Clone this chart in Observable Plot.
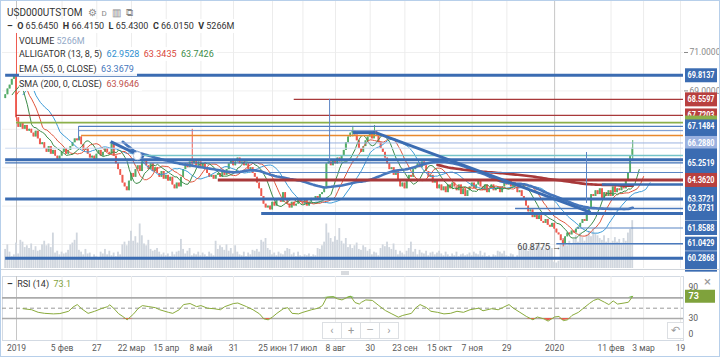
<!DOCTYPE html>
<html><head><meta charset="utf-8">
<script src="https://cdn.jsdelivr.net/npm/d3@7"></script>
<script src="https://cdn.jsdelivr.net/npm/@observablehq/plot@0.6"></script>
<style>
html,body{margin:0;padding:0;background:#fff;}
#wrap{position:relative;width:720px;height:357px;overflow:hidden;background:#fff;font-family:Roboto,"Noto Sans",sans-serif;}
.lg{position:absolute;font-size:9px;line-height:14px;color:#333;white-space:nowrap;background:rgba(255,255,255,0.92);padding-right:3px;}
.b{font-weight:700;}
#border{position:absolute;left:0;top:0;width:720px;height:357px;box-sizing:border-box;border:1px solid #b7cfea;pointer-events:none;}
.btn{position:absolute;background:#fff;border:1px solid #dcdfe3;color:#9a9a9a;font-size:11px;text-align:center;line-height:15px;box-sizing:border-box;}
</style></head><body>
<div id="wrap"></div>
<script>
// ---------------- DATA ----------------
const closes = [
68.8,69.1,69.3,69.6,69.8,
67.6,
67.1,67.3,67.0,67.2,66.9,67.0,
66.8,66.6,66.9,
66.5,66.2,66.3,66.0,
65.8,66.1,65.7,65.9,65.6,
65.4,65.6,
65.8,66.0,65.7,65.9,66.1,
66.3,66.5,66.4,66.6,
66.2,65.9,66.0,65.7,65.5,65.6,65.4,
65.7,65.9,65.6,65.8,66.0,65.8,65.7,
66.3,
65.6,65.2,64.9,
64.6,64.2,64.0,63.8,
64.3,64.7,64.5,64.9,65.1,64.8,
65.3,65.4,
65.1,64.9,65.2,64.8,65.0,
64.7,64.5,64.8,64.4,64.6,64.3,64.5,
64.1,63.9,64.2,64.0,
64.5,64.9,65.2,65.0,65.3,
65.2,65.4,65.1,65.3,65.0,65.2,64.9,
64.7,64.5,64.6,64.4,64.6,
64.7,64.5,64.8,64.6,
64.9,65.2,65.4,65.1,65.3,65.5,65.2,
65.3,65.1,65.2,64.9,65.0,
64.7,64.5,64.2,63.9,63.5,
63.1,62.9,63.0,62.8,
63.2,63.0,63.3,63.4,63.2,63.7,
63.3,63.1,62.9,63.2,63.0,63.1,63.3,
63.2,63.1,63.3,63.0,63.2,63.4,63.3,63.5,63.4,
63.6,63.7,63.9,65.2,
65.3,65.1,65.4,65.2,65.5,65.3,65.6,
65.9,66.3,66.6,66.8,
66.9,66.7,
66.4,66.0,65.8,66.1,66.4,
66.6,66.8,66.5,66.9,66.7,
66.3,66.0,65.8,65.5,
65.2,64.9,65.0,64.6,64.8,
64.3,64.0,64.2,63.9,
64.3,64.6,64.5,64.9,65.0,
65.2,65.0,65.3,65.1,
64.8,64.5,64.6,64.2,64.3,63.9,64.1,
63.8,64.0,63.7,64.1,63.9,64.2,64.0,
63.8,64.1,63.6,63.9,63.5,63.8,64.0,
64.2,63.9,64.1,64.3,
64.0,63.8,64.1,63.7,63.9,
64.1,63.8,63.9,64.0,63.7,64.0,64.2,
64.1,64.3,64.0,64.2,
64.0,63.7,63.8,63.5,63.4,
63.0,62.7,62.8,62.4,
62.6,62.3,62.5,62.2,62.1,
62.3,62.0,61.9,62.1,61.8,
61.6,61.5,61.2,61.0,
61.4,61.6,61.5,61.7,61.6,61.8,
61.9,62.1,62.3,62.2,62.6,
62.9,63.6,63.5,63.8,
63.6,63.9,63.4,63.7,63.5,
63.8,63.5,64.0,63.7,
63.9,63.8,64.1,63.9,
64.3,64.7,
65.6,
66.015
];
const firstOpen = 68.6;
const lastOpen = 65.645;
const wickIdx  = [5, 86, 160, 170, 257, 289];
const wickHigh = [72.0, 67.0, 67.15, 67.2, 61.3, 66.415];
const wickLow  = [67.4, 65.1, 66.6, 66.6, 60.8775, 65.43];

const volumes = [
2100,2600,1800, 1300,1500,2800,1600, 3100,2900,2300, 2500,2200,2700,2000,2400, 1900,2000,
2600,3000,2500,2700, 2300,3900, 1700,1900,1500,1800,1600, 1700,2000, 2600,2800,3100,3900,
2000,1800,1500,2100,1600,1700, 1200,1500,1300,1100, 1800,1600,2100,1500,1900,
1400,1700,1300,1800,1500, 2600,2900,2500,3000, 4100,3000, 3500,2800, 4900,
3600,2700,2500,3100, 2100,1900,2000,2200,1800, 1500,1700,1400,1600,1300,1800,1500,
1800,1900, 3200, 2100,1600,1900,2200,1400, 1600,1500,1800,1400,1700, 1500,1300,1800,1600,1400,
3000,2100, 2500,2300,2000,2600,1900, 2200,1600,2500,1800,1500, 1400,1800,1300,1700,1500,
2000,1900,2100,1800, 3100,2900,3300, 2200,2000, 1500,1700,1400,1800,1600,1500,1900,
2200,2100, 1500,1700,1300,1800,1400, 1300,1500,1400,1600,1300,1500,1400, 2200,2100,
2500,2900, 4900, 3900,3300,2900,3500, 3100,4400, 3000,2700,3300,2300,2600,
2200,2500,2800,2100, 2000,2500,2300,1900,2100, 1500,1800,1700,1400, 2200,2600,2400,2900,2300,
2100,2700,2000, 1500,1900,1700,1500, 1900,2200,2900, 1800,2100,1500,2000,1700,
1600,1900,1400,1700,1800,1500, 1700,1900,1600,1400,1800,1500, 1300,1600,1400,1800,1300,1500,
1600,1400,1500,1700,1400,1800, 1600,1500,1900,1400,1700, 1300,1400,1200,1500,1400,
1900,1800,1600,1900, 1400,1300,1600,1500,1200,1400, 2000,2300,2100,2500,1900,
2400,2700,2200,2600,2800,2300, 2100,2500,2000,2400,2200, 700,600, 800,2600,3300,
2800,2500,3000,2700, 3200,3600,2900,3900,3400, 3000,3700,4100,3500, 4300,3800,3600,3300,
3100,3600,2900,3300,2800, 3000,3400,2900,3200, 2800,3300,3000, 3900,4300, 5266
];

const tickIdx = [5,26,42,58,74,90,105,123,137,152,168,184,200,215,231,253,279,294,311];
const tickLabels = ["2019","5 фев","27","22 мар","15 апр","8 май","31","25 июн","17 июл","8 авг","30","23 сен","15 окт","7 ноя","29","2020","11 фев","3 мар","19"];
const yearTicks = [5, 253];
const gridPrices = [61,63,65,67,69,71];
const axisPrices = [69,71];

const BLUE = "#3b6cb2", DRED = "#a8393a", LBLUE = "#9bb2e0";
const levelPrice = [69.8137, 68.5597, 67.7203, 67.35, 67.1484, 66.93, 66.68, 66.288, 66.015, 65.635, 65.42, 65.2519, 64.75, 64.362, 64.125, 63.3721, 62.8731, 62.61, 61.8588, 61.0429, 60.2868];
const levelStart = [0, 133, 5, 5, 34, 34, 35, 48, 0, 64, 0, 0, 122, 98, 275, 0, 235, 118, 263, 254, 0];
const levelColor = [BLUE, DRED, DRED, "#8cb04a", "#4f7dc0", "#6f93cf", "#e8892e", LBLUE, "#c9d7ef", "#74c4c8", BLUE, "#3f70b6", "#5a85c4", DRED, BLUE, BLUE, "#4b7abd", BLUE, "#5a85c4", "#4b7abd", BLUE];
const levelWidth = [3, 1.2, 1.2, 1.6, 1.2, 1, 1.6, 1, 1, 1.6, 3, 1.4, 1, 3, 2.5, 3, 1.6, 3, 1.2, 1.6, 3];

// price label boxes in drawing order; "" = box covered by its neighbours
const labelPrice = [69.8137, 68.5597, 67.7203, 67.35, 66.93, 67.1484, 66.288, 65.635, 64.75, 63.9646, 65.2519, 64.362, 63.3721, 62.61, 62.8731, 61.8588, 61.0429, 59.95, 60.2868];
const labelText  = ["69.8137","68.5597","67.7203","","","67.1484","66.2880","","","","65.2519","64.3620","63.3721","","62.8731","61.8588","61.0429","","60.2868"];
const labelColor = [BLUE, "#b8403f", "#b8403f", "#8cb04a", BLUE, BLUE, LBLUE, BLUE, BLUE, BLUE, BLUE, "#b8403f", BLUE, BLUE, BLUE, BLUE, BLUE, BLUE, BLUE];

const trendX1 = [48.4, 160, 170.5];
const trendY1 = [66.36, 66.83, 66.83];
const trendX2 = [63.6, 170.5, 269.6];
const trendY2 = [65.53, 66.83, 62.67];
const handleX = [60.7], handleY = [65.62];

const vlineX  = [33.6, 149.3, 267.7];
const vlineY1 = [67.15, 68.56, 65.79];
const vlineY2 = [66.42, 65.27, 63.14];

const annIdx = [257], annPrice = [60.8775], annText = ["60.8775 →"];

const rsiIdx = [8,12,15,18,22,25,29,31,33,35,38,41,44,47,48,50,52,54,56,59,61,63,66,69,71,75,77,80,82,85,88,90,93,96,99,101,105,107,111,114,117,119,121,123,125,128,130,132,135,137,141,144,146,148,151,153,155,157,159,161,163,164,166,169,172,175,178,181,183,187,189,191,194,196,199,202,205,208,211,214,218,220,224,227,229,232,234,237,240,243,245,248,250,253,255,257,259,261,264,266,269,271,273,276,278,280,282,285,287,289];
const rsiVal = [49,47,42,40,39,39.6,44,52,57,49,40,44,49,53,56.5,49,39.6,33.9,27.5,39,49,55,53,51,47,42,40,47,57,59,53,55,50,49,47,53,59,60,53,47,39,29.4,27.5,33,40,49,51,40,39,42,47,50,55,71,72,68,66,70,73,61,58,61.5,66,65,55,45.5,39,32.6,36,40,50.6,57,51,44,42,39,40,44,42,47,50,45,49,47,51,57,50,42,34,27.5,33,29.4,25,33,34,26,27.5,36,42,49,59,65,68,61.5,57,64,58,60,61.5,73.1];
const rsiLevels = [70, 30], rsiMid = [50], rsiTicks = [0, 30, 90];
const rsiLast = [73.1], rsiLastText = ["73"];

// ---------------- BUILD ----------------
const X_DOMAIN = [-1.45, 312.4];
const Y_DOMAIN = [59.75, 73.708];
const RSI_DOMAIN = [-12.5, 111.3];
const W = 720;
const GREEN = "#55ac68", RED = "#ee5a4f";

const bars = closes.map((c, i) => {
  const o = i === 0 ? firstOpen : (i === closes.length - 1 ? lastOpen : closes[i - 1]);
  const k = wickIdx.indexOf(i);
  return {i, o, c, h: k >= 0 ? wickHigh[k] : Math.max(o, c), l: k >= 0 ? wickLow[k] : Math.min(o, c), v: volumes[i]};
});
const levels = levelPrice.map((p, k) => ({p, s: levelStart[k], c: levelColor[k], w: levelWidth[k]}));
const labels = labelPrice.map((p, k) => ({p, t: labelText[k], c: labelColor[k]}));
const trends = trendX1.map((x, k) => ({x1: x, y1: trendY1[k], x2: trendX2[k], y2: trendY2[k]}));
const vlines = vlineX.map((x, k) => ({x, y1: vlineY1[k], y2: vlineY2[k]}));
const anns = annIdx.map((x, k) => ({x, y: annPrice[k], t: annText[k]}));
const handles = handleX.map((x, k) => ({x, y: handleY[k]}));
const rsi = rsiIdx.map((i, k) => ({i, r: rsiVal[k]}));

const wrap = document.getElementById("wrap");
function place(el, top) {
  el.style.position = "absolute"; el.style.left = "0px"; el.style.top = top + "px";
  el.style.background = "transparent"; el.style.maxWidth = "none";
  wrap.appendChild(el); return el;
}
function squeeze(svg, len) {
  svg.querySelectorAll("text").forEach(t => {
    if (t.textContent.length > 3) { t.setAttribute("textLength", len); t.setAttribute("lengthAdjust", "spacingAndGlyphs"); }
  });
}
const st = (color, fs) => `background:transparent;font-family:Roboto,'Noto Sans',sans-serif;font-size:${fs || 9}px;color:${color};overflow:visible;`;
const mainFrame = {width: W, height: 270, marginLeft: 2, marginRight: 37, marginTop: 0, marginBottom: 2};

// grid + price axis
place(Plot.plot({
  ...mainFrame,
  x: {domain: X_DOMAIN, axis: null},
  y: {domain: Y_DOMAIN, axis: "right", ticks: axisPrices, tickFormat: d3.format(".4f"), tickSize: 4, tickPadding: 2, label: null},
  style: st("#8a8a8a", 8.5),
  marks: [
    Plot.ruleY(gridPrices, {stroke: "#f0f0f0"}),
    Plot.ruleX(tickIdx.filter(t => !yearTicks.includes(t)), {stroke: "#ececec"}),
    Plot.ruleX(yearTicks, {stroke: "#c6c6c6"})
  ]
}), 0);

// volume
place(Plot.plot({
  ...mainFrame,
  x: {domain: X_DOMAIN, axis: null},
  y: {domain: [0, 29500], axis: null},
  style: st("#333"),
  marks: [
    Plot.rect(bars, {x1: d => d.i - 0.42, x2: d => d.i + 0.42, y1: 0, y2: "v", fill: "#d0d6de"})
  ]
}), 0);

// price
const maFrom = (k, shift, color, w) => Plot.line(bars, Plot.windowY({k, anchor: "end", strict: true}, {x: d => d.i + shift, y: "c", stroke: color, strokeWidth: w}));
const maLoose = (k, shift, color, w) => Plot.line(bars, Plot.windowY({k, anchor: "end"}, {x: d => d.i + shift, y: "c", stroke: color, strokeWidth: w}));
place(Plot.plot({
  ...mainFrame,
  x: {domain: X_DOMAIN, axis: null},
  y: {domain: Y_DOMAIN, axis: null},
  color: {type: "identity"},
  style: st("#333"),
  marks: [
    Plot.ruleX(bars, {filter: d => d.c >= d.o, x: "i", y1: "l", y2: "h", stroke: GREEN, strokeWidth: 1}),
    Plot.ruleX(bars, {filter: d => d.c < d.o, x: "i", y1: "l", y2: "h", stroke: RED, strokeWidth: 1}),
    Plot.rect(bars, {filter: d => d.c >= d.o, x1: d => d.i - 0.42, x2: d => d.i + 0.42, y1: "o", y2: "c", fill: GREEN}),
    Plot.rect(bars, {filter: d => d.c < d.o, x1: d => d.i - 0.42, x2: d => d.i + 0.42, y1: "o", y2: "c", fill: RED}),
    maLoose(13, 8, "#3c9bd8", 1),
    maLoose(8, 5, "#e0553c", 1),
    maLoose(5, 3, "#3d8b48", 1),
    maFrom(55, 0, "#4676bb", 2.6),
    maFrom(200, 0, "#a8393a", 2.6),
    Plot.ruleY(levels, {y: "p", x1: "s", x2: () => X_DOMAIN[1], stroke: "c", strokeWidth: "w"}),
    Plot.ruleX(vlines, {x: "x", y1: "y1", y2: "y2", stroke: "#5b84c4", strokeWidth: 1}),
    Plot.link(trends, {x1: "x1", y1: "y1", x2: "x2", y2: "y2", stroke: BLUE, strokeWidth: 3}),
    Plot.dot(handles, {x: "x", y: "y", r: 4, fill: "white", stroke: "#b9c9e3", strokeWidth: 1}),
    Plot.text(anns, {x: "x", y: "y", text: "t", textAnchor: "end", dx: -2, fill: "#444", fontSize: 9})
  ]
}), 0);

// price labels column
const lab = place(Plot.plot({
  width: W, height: 270, marginLeft: 685, marginRight: 3, marginTop: 0, marginBottom: 2,
  y: {domain: Y_DOMAIN, axis: null},
  style: st("#fff"),
  marks: labels.flatMap(l => [
    Plot.tickY([l], {y: "p", stroke: l.c, strokeWidth: 14}),
    ...(l.t ? [Plot.text([l], {y: "p", text: "t", frameAnchor: "left", textAnchor: "start", dx: 2, fill: "white", fontSize: 8.5, fontWeight: 700})] : [])
  ])
}), 0);
squeeze(lab, 27);

// RSI panel
const rsiFrame = {width: W, height: 87, marginLeft: 2, marginRight: 37, marginTop: 6, marginBottom: 17};
place(Plot.plot({
  ...rsiFrame,
  x: {domain: X_DOMAIN, axis: "bottom", ticks: tickIdx, tickFormat: d => tickLabels[tickIdx.indexOf(d)], tickSize: 0, tickPadding: 4, label: null},
  y: {domain: RSI_DOMAIN, axis: "right", ticks: rsiTicks, tickSize: 0, tickPadding: 5, label: null},
  style: st("#5a5a5a", 8.5),
  marks: [
    Plot.frame({stroke: "#d3dae3"}),
    Plot.ruleX(tickIdx.filter(t => !yearTicks.includes(t)), {stroke: "#ececec"}),
    Plot.ruleX(yearTicks, {stroke: "#c6c6c6"}),
    Plot.ruleY(rsiLevels, {stroke: "#ababab", strokeWidth: 1.6}),
    Plot.ruleY(rsiMid, {stroke: "#9a9a9a", strokeDasharray: "4,3"}),
    Plot.areaY(rsi, {x: "i", y1: 30, y2: d => Math.min(d.r, 30), fill: "#e85a50", curve: "linear"}),
    Plot.areaY(rsi, {x: "i", y1: 70, y2: d => Math.max(d.r, 70), fill: "#6cc04a", curve: "linear"}),
    Plot.line(rsi, {x: "i", y: "r", stroke: "#8aab3c", strokeWidth: 1})
  ]
}), 270);

place(Plot.plot({
  width: W, height: 87, marginLeft: 685, marginRight: 5, marginTop: 6, marginBottom: 17,
  y: {domain: RSI_DOMAIN, axis: null},
  style: st("#fff"),
  marks: [
    Plot.tickY(rsiLast, {y: d => d, stroke: "#7fa23c", strokeWidth: 13}),
    Plot.text(rsiLast, {y: d => d, text: (d, k) => rsiLastText[k], frameAnchor: "left", textAnchor: "start", dx: 3, fill: "white", fontSize: 9, fontWeight: 700})
  ]
}), 270);

// ---------------- HTML chrome (legends, buttons) ----------------
function div(cls, top, left, html, extra) {
  const d = document.createElement("div");
  d.className = cls; d.style.top = top + "px"; d.style.left = left + "px";
  d.innerHTML = html; if (extra) d.style.cssText += extra;
  wrap.appendChild(d); return d;
}
div("lg", 6, 7, `USD000UTSTOM &nbsp;<span style="color:#888">⚙ &nbsp;<span style="font-size:8px">D</span> &nbsp;▥ &nbsp;⧉</span>`, "font-size:10px;background:transparent;");
div("lg", 19, 7, `<span class="b">–</span>&nbsp; <span class="b">O</span> 65.6450 &nbsp;<span class="b">H</span> 66.4150 &nbsp;<span class="b">L</span> 65.4300 &nbsp;<span class="b">C</span> 66.0150 &nbsp;<span class="b">V</span> 5266M`);
div("lg", 34, 19, `VOLUME <span style="color:#93a9c8">5266M</span>`);
div("lg", 47, 19, `ALLIGATOR (13, 8, 5) &nbsp;<span style="color:#2f8fd0">62.9528</span> &nbsp;<span style="color:#d9463a">63.3435</span> &nbsp;<span style="color:#3d8b48">63.7426</span>`);
div("lg", 62, 19, `EMA (55, 0, CLOSE) &nbsp;<span style="color:#4676bb">63.3679</span>`);
div("lg", 77, 19, `SMA (200, 0, CLOSE) &nbsp;<span style="color:#c0504d">63.9646</span>`);
div("lg", 277, 7, `<span class="b">–</span>&nbsp; RSI (14) &nbsp;<span style="color:#7fa23c">73.1</span>`, "background:transparent;");
div("lg", 275, 704, `×`, "font-size:13px;color:#9a9a9a;background:transparent;");
// separator between panels
div("lg", 269, 1, "", "width:718px;height:1px;background:#cfd4da;padding:0;");
div("lg", 271, 341, "", "width:8px;height:4px;background:#d8dbdf;padding:0;");
// navigation buttons
div("btn", 322, 322, "‹", "width:20px;height:17px;");
div("btn", 322, 341, "+", "width:20px;height:17px;");
div("btn", 322, 360, "—", "width:20px;height:17px;font-size:9px;");
div("btn", 322, 379, "›", "width:20px;height:17px;");
div("btn", 322, 667, "↶", "width:17px;height:17px;");
const b = document.createElement("div"); b.id = "border"; wrap.appendChild(b);
</script></body></html>
